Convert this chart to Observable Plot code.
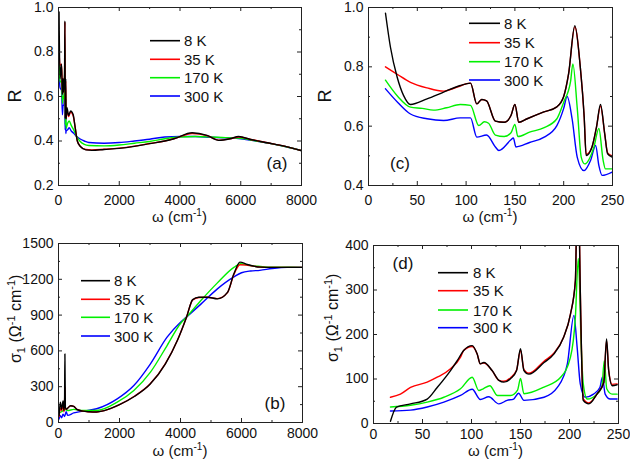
<!DOCTYPE html>
<html><head><meta charset="utf-8">
<script src="https://cdn.jsdelivr.net/npm/d3@7"></script>
<script src="https://cdn.jsdelivr.net/npm/@observablehq/plot@0.6"></script>
<style>
body{margin:0;background:#fff;}
#fig{position:relative;width:630px;height:464px;overflow:hidden;font-family:"Liberation Sans",Arial,sans-serif;}
.panel{position:absolute;width:315px;height:232px;}
</style></head><body><div id="fig"></div><script>
// ---------- series names & colours ----------
const seriesNames = ["8 K", "35 K", "170 K", "300 K"];
const seriesColors = ["#000000", "#ff0000", "#00f000", "#0000ff"];

// ---------- panel (a): R vs omega, 0-8000 ----------
const aW8 = [18, 50, 100, 130, 150, 165, 200, 211, 223, 238, 250, 280, 330, 400, 480, 550, 620, 720, 900, 1100, 1500, 2000, 2500, 3000, 3500, 3800, 4400, 4890, 5270, 5650, 5930, 6330, 6880, 7430, 8000];
const aR8 = [0.98, 0.68, 0.745, 0.61, 0.68, 0.62, 0.70, 0.94, 0.50, 0.68, 0.50, 0.55, 0.515, 0.535, 0.52, 0.46, 0.40, 0.375, 0.36, 0.358, 0.362, 0.367, 0.376, 0.388, 0.40, 0.41, 0.437, 0.425, 0.403, 0.41, 0.42, 0.407, 0.392, 0.377, 0.357];
const aW35 = [18, 50, 100, 130, 150, 165, 200, 211, 223, 238, 250, 280, 330, 400, 480, 550, 620, 720, 900, 1100, 1500, 2000, 2500, 3000, 3500, 3800, 4400, 4890, 5270, 5650, 5930, 6330, 6880, 7430, 8000];
const aR35 = [0.80, 0.74, 0.745, 0.61, 0.68, 0.62, 0.70, 0.935, 0.505, 0.67, 0.50, 0.54, 0.51, 0.53, 0.515, 0.46, 0.40, 0.376, 0.362, 0.36, 0.363, 0.368, 0.377, 0.389, 0.40, 0.41, 0.434, 0.424, 0.404, 0.41, 0.418, 0.407, 0.392, 0.377, 0.357];
const aW170 = [18, 50, 100, 130, 150, 170, 200, 209, 222, 236, 250, 300, 350, 420, 500, 600, 700, 850, 1000, 1500, 2000, 2500, 3000, 3500, 4000, 4500, 5000, 5500, 6000, 6500, 7000, 7500, 8000];
const aR170 = [0.755, 0.665, 0.67, 0.57, 0.60, 0.59, 0.68, 0.81, 0.473, 0.59, 0.456, 0.48, 0.49, 0.47, 0.45, 0.42, 0.40, 0.385, 0.38, 0.378, 0.382, 0.39, 0.398, 0.41, 0.418, 0.42, 0.418, 0.415, 0.412, 0.40, 0.388, 0.374, 0.357];
const aW300 = [18, 50, 100, 130, 150, 180, 204, 214, 221, 233, 240, 250, 300, 350, 420, 500, 600, 700, 850, 1000, 1500, 2000, 2500, 3000, 3500, 4000, 4500, 5000, 5500, 6000, 6500, 7000, 7500, 8000];
const aR300 = [0.726, 0.64, 0.628, 0.518, 0.56, 0.56, 0.70, 0.495, 0.45, 0.535, 0.434, 0.445, 0.45, 0.46, 0.445, 0.435, 0.42, 0.41, 0.40, 0.393, 0.39, 0.393, 0.40, 0.408, 0.418, 0.42, 0.42, 0.417, 0.414, 0.41, 0.40, 0.388, 0.374, 0.357];

// ---------- panel (b): sigma1 vs omega, 0-8000 ----------
const bW8 = [20, 60, 100, 150, 180, 200, 210, 225, 260, 300, 400, 500, 600, 800, 1000, 1250, 1500, 2000, 2500, 3000, 3500, 3900, 4200, 4400, 4600, 4880, 5210, 5540, 5750, 5950, 6190, 6620, 7000, 8000];
const bS8 = [60, 170, 110, 180, 100, 200, 575, 130, 110, 120, 140, 135, 110, 95, 90, 88, 100, 150, 220, 320, 490, 690, 885, 1030, 1050, 1050, 1036, 1090, 1246, 1344, 1324, 1302, 1300, 1300];
const bW35 = [20, 60, 100, 150, 180, 200, 210, 225, 260, 300, 400, 500, 600, 800, 1000, 1250, 1500, 2000, 2500, 3000, 3500, 3900, 4200, 4400, 4600, 4880, 5210, 5540, 5750, 5950, 6190, 6620, 7000, 8000];
const bS35 = [50, 120, 100, 140, 90, 170, 300, 120, 110, 120, 140, 135, 110, 95, 90, 88, 100, 150, 222, 322, 492, 690, 885, 1028, 1048, 1050, 1038, 1088, 1240, 1322, 1318, 1302, 1300, 1300];
const bW170 = [20, 100, 200, 300, 500, 800, 1250, 1925, 2470, 3015, 3560, 4000, 4200, 4660, 5210, 5750, 5970, 6300, 6620, 7000, 8000];
const bS170 = [80, 90, 110, 100, 110, 100, 100, 170, 268, 422, 645, 830, 885, 1020, 1170, 1300, 1330, 1315, 1308, 1302, 1300];
const bW300 = [20, 50, 100, 150, 200, 250, 300, 500, 800, 1250, 1925, 2470, 3015, 3560, 4000, 4200, 4660, 5210, 5750, 6000, 6300, 6600, 7000, 7500, 8000];
const bS300 = [30, 60, 40, 70, 50, 90, 60, 80, 95, 115, 198, 310, 492, 715, 840, 885, 990, 1120, 1220, 1255, 1270, 1275, 1290, 1300, 1300];

// ---------- panel (c): R vs omega, 0-250 ----------
const cW8 = [17.4, 22.5, 29.4, 36, 43, 60, 77, 94, 104.5, 111, 116, 121, 130, 139, 146, 150, 154, 162.6, 179.7, 193, 200, 205, 211.4, 217, 221, 223, 229, 233.6, 237.7, 242, 245, 249.6];
const cR8 = [0.981, 0.866, 0.765, 0.703, 0.673, 0.692, 0.715, 0.737, 0.745, 0.675, 0.69, 0.685, 0.617, 0.613, 0.636, 0.673, 0.613, 0.625, 0.648, 0.665, 0.70, 0.776, 0.939, 0.799, 0.63, 0.501, 0.53, 0.597, 0.673, 0.575, 0.507, 0.496];
const cW35 = [17.4, 29.4, 43, 60, 77, 90.8, 104.5, 111, 116, 121, 130, 139, 146, 150, 154, 162.6, 179.7, 193, 200, 205, 211.4, 217, 221, 223, 229, 233.6, 237.7, 242, 245, 249.6];
const cR35 = [0.80, 0.775, 0.748, 0.729, 0.718, 0.732, 0.745, 0.675, 0.69, 0.685, 0.617, 0.613, 0.636, 0.673, 0.613, 0.625, 0.648, 0.665, 0.70, 0.776, 0.935, 0.799, 0.63, 0.505, 0.53, 0.597, 0.668, 0.575, 0.51, 0.50];
const cW170 = [17.4, 30, 43, 55, 66.5, 80, 94, 104.5, 113, 118.7, 123, 130, 139, 146, 150, 153, 165, 180, 193, 200, 207, 209.4, 213.9, 218, 221.5, 231, 236, 240.4, 242.8, 249.6];
const cR170 = [0.755, 0.70, 0.664, 0.66, 0.654, 0.662, 0.673, 0.67, 0.602, 0.615, 0.61, 0.57, 0.565, 0.578, 0.606, 0.565, 0.58, 0.595, 0.625, 0.681, 0.75, 0.81, 0.66, 0.495, 0.473, 0.53, 0.592, 0.485, 0.456, 0.456];
const cW300 = [17.4, 30, 43, 60, 77, 94, 104.5, 111, 121, 130, 133.6, 146, 148.4, 151, 165, 180, 193, 200, 203.5, 208.6, 213.9, 220.8, 227.6, 232.7, 236, 239.4, 249.6];
const cR300 = [0.726, 0.68, 0.641, 0.625, 0.619, 0.628, 0.628, 0.563, 0.57, 0.53, 0.518, 0.554, 0.56, 0.53, 0.545, 0.563, 0.602, 0.66, 0.70, 0.625, 0.495, 0.45, 0.485, 0.535, 0.468, 0.434, 0.445];

// ---------- panel (d): sigma1 vs omega, 0-250 ----------
const dW8 = [17.3, 23.5, 37.8, 54.8, 65, 78.6, 85.4, 92, 100.7, 105.8, 109, 112.6, 121, 128, 133, 140, 146, 150, 153.5, 158.6, 174, 184, 194, 201, 206, 208.5, 211, 212.5, 214, 219.7, 228, 235, 237.8, 240, 243.5, 248.6];
const dS8 = [5, 37, 44, 55, 81, 119, 141, 164, 175, 156, 134, 137, 119, 97, 93, 101, 119, 168, 119, 111, 137, 156, 194, 246, 321, 600, 300, 134, 52, 44, 66, 92, 190, 119, 85, 87];
const dW35 = [17.3, 27.5, 37.8, 54.8, 65, 78.6, 88.8, 92, 100.7, 105.8, 109, 112.6, 121, 128, 133, 140, 146, 150, 153.5, 158.6, 174, 184, 194, 201, 206, 208.5, 211, 212.5, 214, 219.7, 228, 235, 237.8, 240, 243.5, 248.6];
const dS35 = [59, 66, 81, 93, 104, 123, 149, 164, 173, 156, 134, 136, 119, 97, 95, 103, 120, 165, 121, 113, 140, 158, 194, 246, 321, 600, 300, 134, 55, 46, 66, 92, 186, 119, 88, 89];
const dW170 = [17.3, 37.8, 54.8, 71.8, 88.8, 100.7, 107.5, 112, 118.7, 126.5, 140, 147, 150, 153.5, 174, 191, 201, 206, 209, 212, 214, 218, 228, 233, 235.5, 238, 243.5, 248.6];
const dS170 = [37, 41, 48, 59, 78, 104, 74, 78, 85, 63, 63, 75, 101, 67, 82, 104, 149, 239, 371, 171, 90, 55, 66, 82, 141, 78, 66, 66];
const dW300 = [17.3, 37.8, 54.8, 71.8, 88.8, 100.7, 109, 117.6, 128, 136.3, 143, 148, 153.5, 174, 187.6, 197.8, 204.5, 207.8, 211, 216, 224.5, 231, 233.6, 236.4, 241.5, 248.6];
const dS300 = [28, 30, 37, 48, 63, 77, 54, 60, 44, 52, 55, 68, 52, 59, 81, 134, 243, 171, 89, 59, 66, 81, 104, 66, 55, 55];

// ---------- tick labels ----------
const xTicksWide = [0, 2000, 4000, 6000, 8000];
const xTicksNarrow = [0, 50, 100, 150, 200, 250];
const yTicksA = [0.2, 0.4, 0.6, 0.8, 1.0];
const yTicksB = [0, 300, 600, 900, 1200, 1500];
const yTicksC = [0.4, 0.6, 0.8, 1.0];
const yTicksD = [0, 100, 200, 300, 400];

const FONT = '"Liberation Sans", Arial, sans-serif';
const mid = t => t.slice(1).map((v, i) => (v + t[i]) / 2);

function rowsOf(list) {
  return list.flatMap(([name, xs, ys]) => xs.map((x, i) => ({k: name, x, y: ys[i]})));
}

function makePanel(o) {
  const W = 315, H = 232;
  const iw = W - o.ml - o.mr, ih = H - o.mt - o.mb;
  const xMin = mid(o.xt), yMin = mid(o.yt);
  const rows = rowsOf(o.series);
  const drawOrder = ["300 K", "170 K", "35 K", "8 K"];
  const marks = [];
  for (const k of drawOrder) {
    marks.push(Plot.line(rows.filter(d => d.k === k), {x: "x", y: "y", stroke: "k", strokeWidth: 1.4, curve: "monotone-x", clip: true}));
  }
  marks.push(
    Plot.frame({stroke: "#222", strokeWidth: 1}),
    Plot.ruleX(o.xt, {insetTop: ih - 4, stroke: "#222"}),
    Plot.ruleX(xMin, {insetTop: ih - 2, stroke: "#222"}),
    Plot.ruleX(o.xt, {insetBottom: ih - 4, stroke: "#222"}),
    Plot.ruleX(xMin, {insetBottom: ih - 2, stroke: "#222"}),
    Plot.ruleY(o.yt, {insetRight: iw - 4, stroke: "#222"}),
    Plot.ruleY(yMin, {insetRight: iw - 2, stroke: "#222"}),
    Plot.ruleY(o.yt, {insetLeft: iw - 4, stroke: "#222"}),
    Plot.ruleY(yMin, {insetLeft: iw - 2, stroke: "#222"}),
    Plot.axisX(o.xt, {tickSize: 0, tickPadding: o.xpad, tickFormat: o.xf, fontSize: 14, label: null}),
    Plot.axisY(o.yt, {tickSize: 0, tickPadding: 5, tickFormat: o.yf, fontSize: 14, label: null})
  );
  const svgEl = Plot.plot({
    width: W, height: H,
    marginLeft: o.ml, marginRight: o.mr, marginTop: o.mt, marginBottom: o.mb,
    x: {domain: o.xd}, y: {domain: o.yd},
    color: {domain: seriesNames, range: seriesColors},
    style: {fontFamily: FONT, color: "#111", background: "transparent", overflow: "visible"},
    marks
  });
  const svg = d3.select(svgEl);
  // x axis title
  const xl = svg.append("text").attr("x", o.ml + iw / 2).attr("y", o.xly)
    .attr("text-anchor", "middle").attr("font-size", 15).attr("fill", "#111").attr("font-family", FONT);
  xl.append("tspan").text("\u03c9 (cm");
  xl.append("tspan").attr("dy", -6).attr("font-size", 10).text("-1");
  xl.append("tspan").attr("dy", 6).text(")");
  // y axis title
  if (o.ylab === "R") {
    svg.append("text").attr("transform", `translate(${o.ylx},${o.mt + ih / 2}) rotate(-90)`)
      .attr("text-anchor", "middle").attr("font-size", 18).attr("fill", "#111").attr("font-family", FONT).text("R");
  } else {
    const yl = svg.append("text").attr("transform", `translate(${o.ylx},${o.yly}) rotate(-90)`)
      .attr("text-anchor", "start").attr("font-size", 16).attr("fill", "#111").attr("font-family", FONT);
    yl.append("tspan").text("\u03c3");
    yl.append("tspan").attr("dy", 4).attr("font-size", 11).text("1");
    yl.append("tspan").attr("dy", -4).text(" (\u03a9");
    yl.append("tspan").attr("dy", -6).attr("font-size", 11).text("-1");
    yl.append("tspan").attr("dy", 6).text(" cm");
    yl.append("tspan").attr("dy", -6).attr("font-size", 11).text("-1");
    yl.append("tspan").attr("dy", 6).text(")");
  }
  // panel letter
  svg.append("text").attr("x", o.px).attr("y", o.py).attr("text-anchor", "middle")
    .attr("dominant-baseline", "central").attr("font-size", 17).attr("fill", "#111").attr("font-family", FONT).text(o.letter);
  // legend
  const lg = svg.append("g");
  seriesNames.forEach((n, i) => {
    const y = o.lgY[i];
    lg.append("line").attr("x1", o.lgX[0]).attr("x2", o.lgX[1]).attr("y1", y).attr("y2", y)
      .attr("stroke", seriesColors[i]).attr("stroke-width", 1.6);
    lg.append("text").attr("x", o.lgX[2]).attr("y", y).attr("dominant-baseline", "central")
      .attr("text-anchor", "start")
      .attr("font-size", 15).attr("fill", "#111").attr("font-family", FONT).text(n);
  });
  const div = document.createElement("div");
  div.className = "panel";
  div.style.left = o.left + "px";
  div.style.top = o.top + "px";
  div.appendChild(svgEl);
  document.getElementById("fig").appendChild(div);
}

const fmtInt = d3.format("d");
const fmt1 = d3.format(".1f");

makePanel({
  left: 0, top: 0, ml: 58, mr: 14, mt: 7, mb: 47,
  xd: [0, 8000], yd: [0.2, 1.0], xt: xTicksWide, yt: yTicksA, xf: fmtInt, yf: fmt1, xpad: 10,
  series: [["8 K", aW8, aR8], ["35 K", aW35, aR35], ["170 K", aW170, aR170], ["300 K", aW300, aR300]],
  xly: 222, ylab: "R", ylx: 21, letter: "(a)", px: 277, py: 163,
  lgX: [150, 180, 184], lgY: [40.7, 59.3, 77.7, 96]
});
makePanel({
  left: 315, top: 0, ml: 53, mr: 18, mt: 7, mb: 47,
  xd: [0, 250], yd: [0.4, 1.0], xt: xTicksNarrow, yt: yTicksC, xf: fmtInt, yf: fmt1, xpad: 10,
  series: [["8 K", cW8, cR8], ["35 K", cW35, cR35], ["170 K", cW170, cR170], ["300 K", cW300, cR300]],
  xly: 222, ylab: "R", ylx: 16, letter: "(c)", px: 85, py: 163,
  lgX: [154, 185, 189], lgY: [23.3, 42.7, 61.7, 80]
});
makePanel({
  left: 0, top: 232, ml: 58, mr: 13, mt: 11, mb: 42,
  xd: [0, 8000], yd: [0, 1500], xt: xTicksWide, yt: yTicksB, xf: fmtInt, yf: fmtInt, xpad: 6,
  series: [["8 K", bW8, bS8], ["35 K", bW35, bS35], ["170 K", bW170, bS170], ["300 K", bW300, bS300]],
  xly: 224, ylab: "s", ylx: 21, yly: 131, letter: "(b)", px: 275, py: 171,
  lgX: [81, 110, 114], lgY: [48.7, 67.3, 85.3, 104]
});
makePanel({
  left: 315, top: 232, ml: 58, mr: 12, mt: 13, mb: 41,
  xd: [0, 250], yd: [0, 400], xt: xTicksNarrow, yt: yTicksD, xf: fmtInt, yf: fmtInt, xpad: 6,
  series: [["8 K", dW8, dS8], ["35 K", dW35, dS35], ["170 K", dW170, dS170], ["300 K", dW300, dS300]],
  xly: 224, ylab: "s", ylx: 23, yly: 130, letter: "(d)", px: 88, py: 31,
  lgX: [123, 153, 158], lgY: [40.7, 58.7, 78, 95.7]
});
</script></body></html>
